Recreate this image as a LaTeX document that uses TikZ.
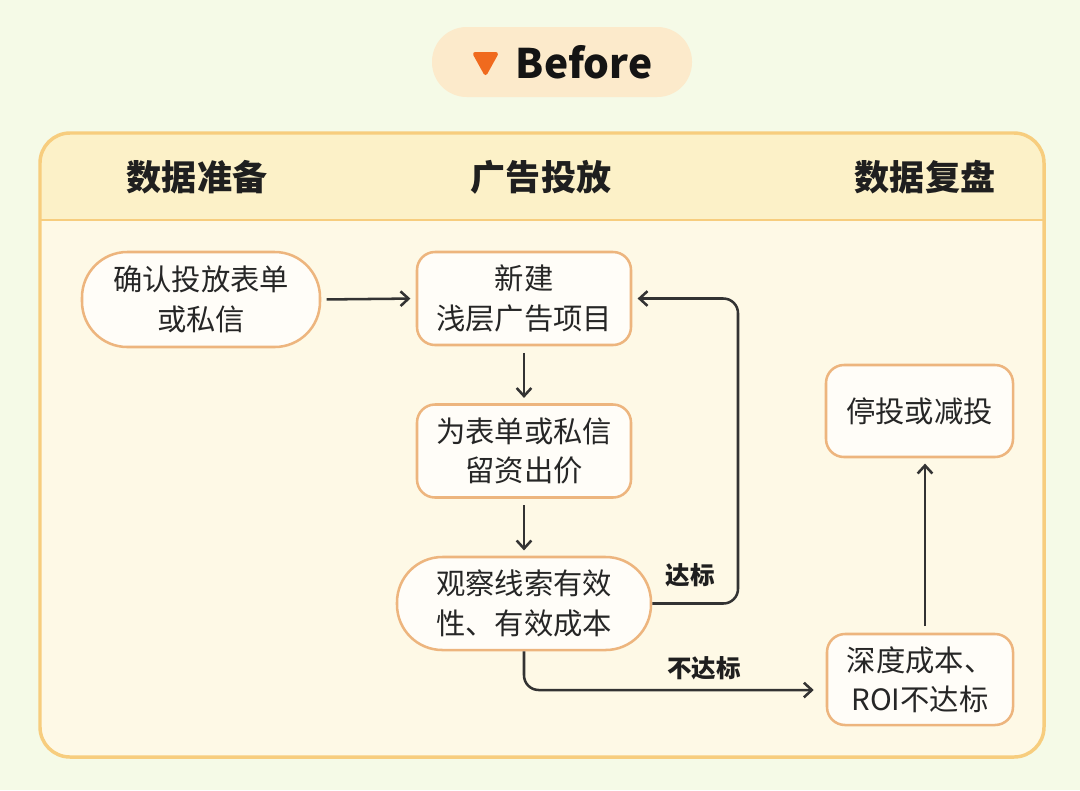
\documentclass[tikz,border=0pt]{standalone}
\usepackage{fontspec}
\newfontfamily\cjk{Noto Sans CJK SC}
\setmainfont{Noto Sans CJK SC}
\usetikzlibrary{arrows.meta}
\definecolor{bgc}{HTML}{F5FAE7}
\definecolor{pillc}{HTML}{FCEACB}
\definecolor{tric}{HTML}{F06A1E}
\definecolor{panelborder}{HTML}{F7CD7E}
\definecolor{headc}{HTML}{FCF1C8}
\definecolor{bodyc}{HTML}{FEF9E6}
\definecolor{nodeborder}{HTML}{EDB57E}
\definecolor{nodefill}{HTML}{FFFDF8}
\definecolor{arrc}{HTML}{333333}
\tikzset{
  box/.style={draw=nodeborder, fill=nodefill, line width=1.9pt, rounded corners=13.5pt,
    align=center, font=\cjk\fontsize{22}{29.5}\selectfont, text=black!85, inner sep=0pt},
  pillbox/.style={box, rounded corners=34pt},
  hdr/.style={font=\cjk\bfseries\fontsize{26.3}{30}\selectfont, text=black!88},
  lbl/.style={font=\cjk\bfseries\fontsize{18.4}{20}\selectfont, text=black!88},
  arr/.style={draw=arrc, line width=1.9pt, -{Straight Barb[length=6pt,width=11pt,line width=1.9pt]}}
}
\begin{document}
\begin{tikzpicture}[x=0.75pt,y=-0.75pt]
\useasboundingbox (0,0) rectangle (1080,790);
\fill[bgc] (0,0) rectangle (1080,790);
% Before pill
\fill[pillc, rounded corners=26pt] (432,27) rectangle (692,97);
\fill[tric, draw=tric, line width=3pt, line join=round] (475,54) -- (496,54) -- (485.5,73) -- cycle;
\node[font=\cjk\bfseries\fontsize{30.5}{36}\selectfont, text=black!92] (before) at (584,62) {Before};
% panel
\fill[bodyc, rounded corners=22.5pt] (40,133) rectangle (1044,757);
\begin{scope}
  \clip[rounded corners=22.5pt] (40,133) rectangle (1044,757);
  \fill[headc] (40,133) rectangle (1044,220);
\end{scope}
\draw[panelborder, line width=2.2pt] (40,220) -- (1044,220);
\draw[panelborder, line width=2.6pt, rounded corners=22.5pt] (40,133) rectangle (1044,757);
% headers
\node[hdr] (h1) at (197,177) {数据准备};
\node[hdr] (h2) at (541,177) {广告投放};
\node[hdr] (h3) at (925,177) {数据复盘};
% nodes
\node[pillbox, minimum width=178.5pt, minimum height=71.25pt] (n1) at (201,299.5) {确认投放表单\\或私信};
\node[box, minimum width=160.5pt, minimum height=69.75pt] (n2) at (524,298.5) {新建\\浅层广告项目};
\node[box, minimum width=160.5pt, minimum height=69.75pt] (n3) at (524,451) {为表单或私信\\留资出价};
\node[pillbox, minimum width=190.5pt, minimum height=69.75pt] (n4) at (524,603.5) {观察线索有效\\性、有效成本};
\node[box, minimum width=140.25pt, minimum height=69pt] (n5) at (919.5,411) {停投或减投};
\node[box, minimum width=139.5pt, minimum height=68.25pt] (n6) at (920,679.5) {深度成本、\\ROI不达标};
% connector helpers
\coordinate (loopx) at (738,0);
\coordinate (downy) at (0,690);
\coordinate (upx) at (925,0);
% connectors
\draw[arr, shorten <=4pt, shorten >=4pt] (n1.east) -- (n2.west);
\draw[arr, shorten <=5pt, shorten >=4pt] (n2.south) -- (n3.north);
\draw[arr, shorten <=5pt, shorten >=4pt] (n3.south) -- (n4.north);
\draw[arr, rounded corners=11pt, shorten >=4pt] (n4.east) -- (loopx |- n4.east) -- (loopx |- n2.east) -- (n2.east);
\draw[arr, rounded corners=11pt, shorten >=9pt] (n4.south) -- (n4.south |- downy) -- (n6.west |- downy);
\draw[arr, shorten <=5pt, shorten >=4pt] (n6.north -| upx) -- (n5.south -| upx);
% labels
\node[lbl] (l1) at (690,575) {达标};
\node[lbl] (l2) at (704,668) {不达标};
\end{tikzpicture}
\end{document}
